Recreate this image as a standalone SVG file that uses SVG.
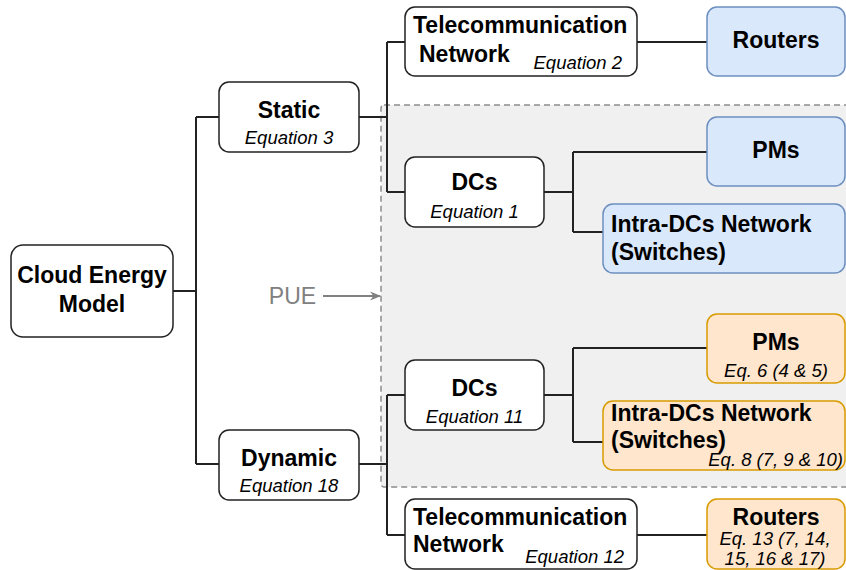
<svg xmlns="http://www.w3.org/2000/svg" width="846" height="570" viewBox="0 0 846 570">
<defs>
<style>
.box{fill:#ffffff;stroke:#222222;stroke-width:1.5}
.blue{fill:#dae8fc;stroke:#6c8ebf;stroke-width:1.5}
.orange{fill:#ffe6cc;stroke:#d79b00;stroke-width:1.5}
.b{font-family:"Liberation Sans",Arial,sans-serif;font-weight:bold;font-size:23px;fill:#000}
.i{font-family:"Liberation Sans",Arial,sans-serif;font-style:italic;font-size:18.5px;fill:#000}
.c{text-anchor:middle}
.e{text-anchor:end}
.conn{fill:none;stroke:#222222;stroke-width:2}
</style>
<marker id="arr" viewBox="0 0 10 10" refX="9" refY="5" markerWidth="11" markerHeight="11" markerUnits="userSpaceOnUse" orient="auto">
<path d="M0,1 L10,5 L0,9 L3,5 Z" fill="#808080"/>
</marker>
</defs>
<rect width="846" height="570" fill="#ffffff"/>
<g id="dc-region">
<rect x="381" y="105" width="475" height="382" rx="3" fill="#f0f0f0" stroke="#8c8c8c" stroke-width="1.5" stroke-dasharray="6 4"/>
</g>
<g id="connectors">
<path class="conn" d="M173,291 H196 M196,117 V464 M196,117 H219 M196,464 H219"/>
<path class="conn" d="M359,117 H387 M387,42 V192 M387,42 H405 M387,192 H405"/>
<path class="conn" d="M359,464 H387 M387,395 V535 M387,395 H405 M387,535 H405"/>
<path class="conn" d="M637,42 H707"/>
<path class="conn" d="M544,192 H573 M573,152 V232 M573,152 H707 M573,232 H603"/>
<path class="conn" d="M544,395 H573 M573,348 V442 M573,348 H707 M573,442 H603"/>
<path class="conn" d="M637,535 H707"/>
<path d="M323,296 H380" fill="none" stroke="#808080" stroke-width="2" marker-end="url(#arr)"/>
</g>
<g id="pue">
<text x="292.5" y="304" class="c" style="font-family:'Liberation Sans',Arial,sans-serif;font-size:23px;fill:#808080">PUE</text>
</g>
<g id="cloud">
<rect class="box" x="11" y="245" width="162" height="92" rx="12"/>
<text class="b c" x="92" y="283">Cloud Energy</text>
<text class="b c" x="92" y="312">Model</text>
</g>
<g id="static">
<rect class="box" x="219" y="82" width="140" height="70" rx="10"/>
<text class="b c" x="289" y="118">Static</text>
<text class="i c" x="289" y="144">Equation 3</text>
</g>
<g id="dynamic">
<rect class="box" x="219" y="430" width="140" height="70" rx="10"/>
<text class="b c" x="289" y="466">Dynamic</text>
<text class="i c" x="289" y="492">Equation 18</text>
</g>
<g id="telecom-static">
<rect class="box" x="405" y="7" width="232" height="69" rx="10"/>
<text class="b" x="413" y="33">Telecommunication</text>
<text class="b" x="419" y="62">Network</text>
<text class="i e" x="622" y="69">Equation 2</text>
</g>
<g id="routers-static">
<rect class="blue" x="707" y="7" width="138" height="69" rx="10"/>
<text class="b c" x="776" y="48">Routers</text>
</g>
<g id="dcs-static">
<rect class="box" x="405" y="157" width="139" height="70" rx="10"/>
<text class="b c" x="474.5" y="190">DCs</text>
<text class="i c" x="474.5" y="218">Equation 1</text>
</g>
<g id="pms-static">
<rect class="blue" x="707" y="117" width="138" height="69" rx="10"/>
<text class="b c" x="776" y="158">PMs</text>
</g>
<g id="intra-static">
<rect class="blue" x="603" y="204" width="242" height="69" rx="10"/>
<text class="b" x="611" y="232">Intra-DCs Network</text>
<text class="b" x="611" y="260">(Switches)</text>
</g>
<g id="dcs-dynamic">
<rect class="box" x="405" y="360" width="139" height="70" rx="10"/>
<text class="b c" x="474.5" y="396">DCs</text>
<text class="i c" x="474.5" y="423">Equation 11</text>
</g>
<g id="pms-dynamic">
<rect class="orange" x="707" y="314" width="138" height="69" rx="10"/>
<text class="b c" x="776" y="350">PMs</text>
<text class="i c" x="776" y="377">Eq. 6 (4 &amp; 5)</text>
</g>
<g id="intra-dynamic">
<rect class="orange" x="603" y="401" width="242" height="69" rx="10"/>
<text class="b" x="611" y="421">Intra-DCs Network</text>
<text class="b" x="611" y="448">(Switches)</text>
<text class="i e" x="843" y="466">Eq. 8 (7, 9 &amp; 10)</text>
</g>
<g id="telecom-dynamic">
<rect class="box" x="405" y="499" width="232" height="70" rx="10"/>
<text class="b" x="413" y="525">Telecommunication</text>
<text class="b" x="413" y="552">Network</text>
<text class="i e" x="624" y="563">Equation 12</text>
</g>
<g id="routers-dynamic">
<rect class="orange" x="707" y="499" width="138" height="70" rx="10"/>
<text class="b c" x="776" y="525">Routers</text>
<text class="i c" x="775" y="545">Eq. 13 (7, 14,</text>
<text class="i c" x="775" y="565">15, 16 &amp; 17)</text>
</g>
</svg>
